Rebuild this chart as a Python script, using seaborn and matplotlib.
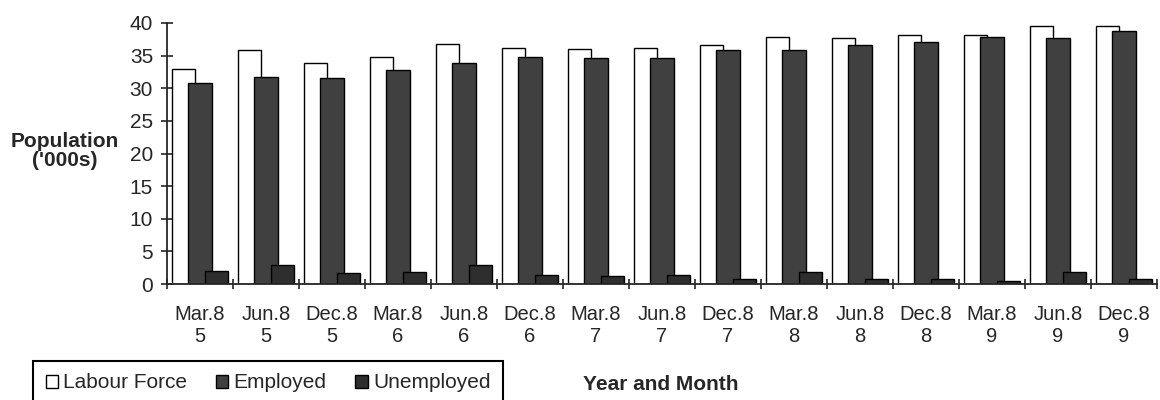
import numpy as np
import pandas as pd
import seaborn as sns
import matplotlib
matplotlib.use("Agg")
import matplotlib.pyplot as plt

# 資料
periods = ["Mar.8\n5", "Jun.8\n5", "Dec.8\n5", "Mar.8\n6", "Jun.8\n6", "Dec.8\n6",
           "Mar.8\n7", "Jun.8\n7", "Dec.8\n7", "Mar.8\n8", "Jun.8\n8", "Dec.8\n8",
           "Mar.8\n9", "Jun.8\n9", "Dec.8\n9"]
labour_force = [33.0, 35.8, 33.9, 34.8, 36.8, 36.1, 36.0, 36.1, 36.6, 37.8, 37.7, 38.1, 38.2, 39.6, 39.5]
employed = [30.8, 31.8, 31.6, 32.8, 33.9, 34.8, 34.6, 34.7, 35.8, 35.8, 36.7, 37.1, 37.8, 37.7, 38.7]
unemployed = [2.0, 2.9, 1.7, 1.9, 2.9, 1.4, 1.3, 1.4, 0.8, 1.9, 0.8, 0.8, 0.4, 1.8, 0.8]
series = ["Labour Force", "Employed", "Unemployed"]

df = pd.DataFrame({
    "Period": periods * 3,
    "Series": np.repeat(series, len(periods)),
    "Value": labour_force + employed + unemployed,
})

sns.set_style("ticks")
plt.rcParams["font.family"] = ["Liberation Sans", "DejaVu Sans"]

fig = plt.figure(figsize=(11.6, 4), dpi=100)
ax = fig.add_axes([167 / 1160, 1 - 284 / 400, 990 / 1160, 261 / 400])

palette = {"Labour Force": "white", "Employed": "#404040", "Unemployed": "#2e2e2e"}
sns.barplot(data=df, x="Period", y="Value", hue="Series", hue_order=series,
            palette=palette, saturation=1, width=0.75, edgecolor="black",
            linewidth=1, ax=ax)

# Excel 風格：柱子互相重疊
for p in ax.patches:
    if p.get_height() == 0 and p.get_width() == 0:
        continue
    c = p.get_x() + p.get_width() / 2
    p.set_width(0.36)
    p.set_x(c - 0.18)

handles, labels = ax.get_legend_handles_labels()
ax.get_legend().remove()

ax.set_xlim(-0.5, len(periods) - 0.5)
ax.set_ylim(0, 40)
ax.set_yticks(range(0, 41, 5))
ax.set_xticks(np.arange(-0.5, len(periods), 1), minor=True)
ax.tick_params(axis="x", which="major", length=0, labelsize=14.5, pad=15)
ax.tick_params(axis="x", which="minor", direction="inout", length=7, width=1.2)
ax.tick_params(axis="y", direction="inout", length=8, width=1.2, labelsize=15, pad=6)
for lab in ax.get_xticklabels():
    lab.set_linespacing(1.2)

for s in ["top", "right"]:
    ax.spines[s].set_visible(False)
ax.spines["left"].set_linewidth(1.3)
ax.spines["bottom"].set_linewidth(1.3)

ax.set_ylabel("Population\n('000s)", rotation=0, fontsize=15, fontweight="bold",
              ha="center", va="center", linespacing=1.05)
ax.yaxis.set_label_coords((65 - 167) / 990, (284 - 151) / 261)
ax.set_xlabel("Year and Month", fontsize=15, fontweight="bold")
ax.xaxis.set_label_coords((661 - 167) / 990, (284 - 384) / 261)
ax.xaxis.label.set_va("center")

leg = fig.legend(handles, labels, loc="upper left", ncol=3, mode="expand",
                 bbox_to_anchor=(33 / 1160, 0, 470 / 1160, 39 / 400),
                 fancybox=False, edgecolor="black", framealpha=1, borderaxespad=0,
                 handlelength=0.6, handleheight=0.6, handletextpad=0.25,
                 fontsize=15, borderpad=0.6)
leg.get_frame().set_linewidth(1.5)

plt.savefig("out.png", dpi=100)
